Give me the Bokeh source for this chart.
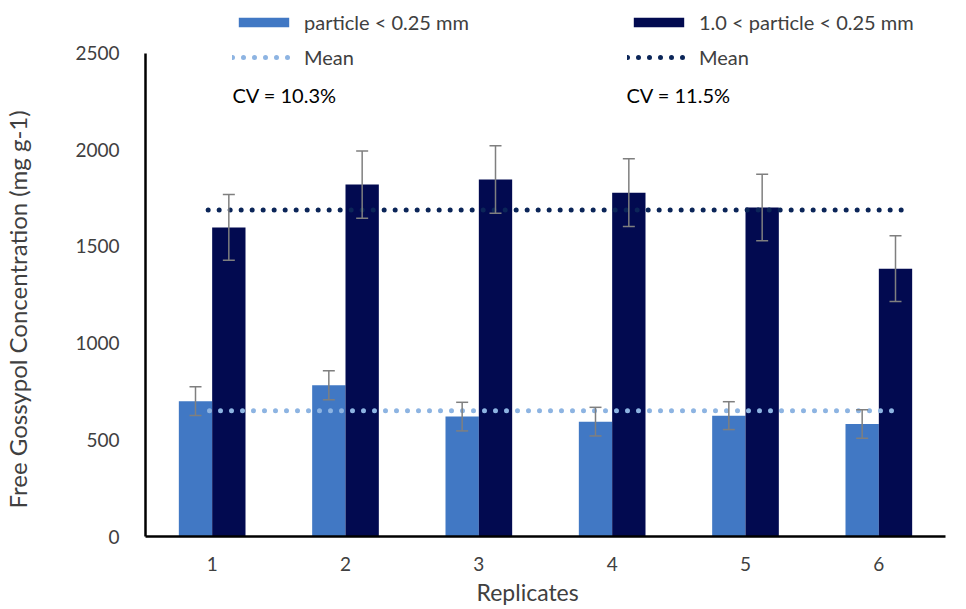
from bokeh.plotting import figure
from bokeh.models import (ColumnDataSource, Whisker, Legend, LegendItem, Label,
                          FixedTicker, Range1d, Title)
from bokeh.embed import file_html
from bokeh.resources import INLINE

replicates = [1, 2, 3, 4, 5, 6]
tick_labels = ["1", "2", "3", "4", "5", "6"]
fine_values = [700, 782, 620, 594, 625, 582]
fine_err = [74, 75, 74, 74, 72, 74]
coarse_values = [1598, 1820, 1846, 1778, 1701, 1385]
coarse_err = [170, 174, 175, 175, 172, 170]
fine_mean = 650
coarse_mean = 1688
fine_cv = "CV = 10.3%"
coarse_cv = "CV = 11.5%"
y_ticks = [0, 500, 1000, 1500, 2000, 2500]
y_title = "Free Gossypol Concentration (mg g-1)"
x_title = "Replicates"

LIGHT = "#4178C4"
DARK = "#020A50"
LIGHT_MEAN = "#8DB4E2"
DARK_MEAN = "#0B2558"
ERR = "#7F7F7F"
TXT = "#404040"
FONT = "Lato"

off = 0.125
bw = 0.25
fine_x = [r - off for r in replicates]
coarse_x = [r + off for r in replicates]

src_f = ColumnDataSource(dict(x=fine_x, top=fine_values,
                              lo=[v - e for v, e in zip(fine_values, fine_err)],
                              hi=[v + e for v, e in zip(fine_values, fine_err)]))
src_c = ColumnDataSource(dict(x=coarse_x, top=coarse_values,
                              lo=[v - e for v, e in zip(coarse_values, coarse_err)],
                              hi=[v + e for v, e in zip(coarse_values, coarse_err)]))

p = figure(width=960, height=607, output_backend="svg", toolbar_location=None,
           x_range=Range1d(0.5, 6.5), y_range=Range1d(0, 2720),
           min_border_left=143, min_border_right=15, min_border_top=10,
           min_border_bottom=66)
p.outline_line_color = None
p.grid.visible = False

r_f = p.vbar(x="x", top="top", width=bw, source=src_f, fill_color=LIGHT, line_color=None)
r_c = p.vbar(x="x", top="top", width=bw, source=src_c, fill_color=DARK, line_color=None)

# mean lines
r_mf = p.line(x=[replicates[0] - 0.02, replicates[-1] + 0.1], y=[fine_mean, fine_mean],
              line_color=LIGHT_MEAN, line_width=5, line_dash="0 11", line_cap="round")
r_mc = p.line(x=[replicates[0] - 0.03, replicates[-1] + 0.18], y=[coarse_mean, coarse_mean],
              line_color=DARK_MEAN, line_width=5, line_dash="0 11", line_cap="round")

for src in (src_f, src_c):
    w = Whisker(base="x", lower="lo", upper="hi", source=src, line_color=ERR,
                line_width=1.5, level="overlay")
    for h in (w.upper_head, w.lower_head):
        h.size = 12
        h.line_color = ERR
        h.line_width = 1.5
    p.add_layout(w)

# axes
p.yaxis.ticker = FixedTicker(ticks=y_ticks)
p.yaxis.bounds = (0, 2500)
p.xaxis.ticker = FixedTicker(ticks=replicates)
p.xaxis.major_label_overrides = {r: t for r, t in zip(replicates, tick_labels)}
for ax in (p.xaxis, p.yaxis):
    ax.axis_line_color = "black"
    ax.axis_line_width = 2.5
    ax.major_tick_line_color = None
    ax.minor_tick_line_color = None
    ax.major_label_text_font = FONT
    ax.major_label_text_font_size = "19px"
    ax.major_label_text_color = TXT
p.yaxis.major_label_standoff = 20
p.xaxis.major_label_standoff = 14

# spacer panel that pushes the y title outward, as in the reference
p.add_layout(Title(text=" ", standoff=38, text_font_size="1px"), "left")
# axis titles as side titles (offset like the reference)
p.add_layout(Title(text=y_title, align="left", offset=28, standoff=0,
                   text_font=FONT, text_font_size="24px", text_font_style="normal",
                   text_color=TXT), "left")
p.add_layout(Title(text=x_title, align="left", offset=331, standoff=4,
                   text_font=FONT, text_font_size="23px", text_font_style="normal",
                   text_color=TXT), "below")

# legends
def mk_legend(items, x):
    lg = Legend(items=items, location=(x, 467), orientation="vertical",
                glyph_width=63, glyph_height=12, label_height=24, spacing=11,
                label_standoff=9, padding=0, margin=0, border_line_color=None,
                background_fill_alpha=0, label_text_font=FONT,
                label_text_font_size="20px", label_text_color=TXT)
    p.add_layout(lg, "center")

mk_legend([LegendItem(label="particle < 0.25 mm", renderers=[r_f]),
           LegendItem(label="Mean", renderers=[r_mf])], 87)
mk_legend([LegendItem(label="1.0 < particle < 0.25 mm", renderers=[r_c]),
           LegendItem(label="Mean", renderers=[r_mc])], 482)

for txt, x in ((fine_cv, 87), (coarse_cv, 481)):
    p.add_layout(Label(x=x, y=442, x_units="screen", y_units="screen", text=txt,
                       text_font=FONT, text_font_size="20px", text_color="black",
                       text_baseline="middle"))

open("out.html", "w").write(file_html(p, INLINE))
